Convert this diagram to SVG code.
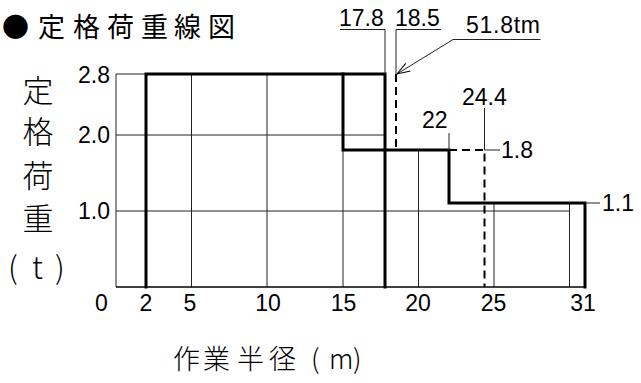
<svg xmlns="http://www.w3.org/2000/svg" width="641" height="383" viewBox="0 0 641 383">
<defs>
<style>
.num{font-family:"Liberation Sans",Arial,sans-serif;font-size:23px;fill:#000}
.cjk{font-family:"Noto Sans CJK JP","Noto Sans CJK SC",sans-serif;fill:#000}
.grid{stroke:#222;stroke-width:1;fill:none}
.thick{stroke:#000;stroke-width:3;fill:none;stroke-linejoin:miter;stroke-linecap:square}
.dash{stroke:#000;stroke-width:2;fill:none;stroke-dasharray:8 5}
.lead{stroke:#222;stroke-width:1;fill:none}
</style>
<marker id="arr" markerWidth="14" markerHeight="10" refX="13" refY="5" orient="auto" markerUnits="userSpaceOnUse">
<path d="M0,0.5 L13,5 L0,9.5" fill="none" stroke="#000" stroke-width="1"/>
</marker>
</defs>
<rect width="641" height="383" fill="#fff"/>
<g id="title">
<text class="cjk" y="37" font-size="27"><tspan x="2">●</tspan><tspan x="38">定</tspan><tspan x="73">格</tspan><tspan x="107">荷</tspan><tspan x="141">重</tspan><tspan x="174">線</tspan><tspan x="208">図</tspan></text>
</g>
<g id="y-axis-label" class="cjk" font-size="31" text-anchor="middle" font-weight="300">
<text x="38" y="102">定</text>
<text x="38" y="143">格</text>
<text x="38" y="187">荷</text>
<text x="38" y="230">重</text>
<text y="279" text-anchor="start"><tspan x="8">(</tspan><tspan x="32">t</tspan><tspan x="55">)</tspan></text>
</g>
<g id="x-axis-label">
<text class="cjk" y="369" font-size="27" font-weight="300"><tspan x="173">作</tspan><tspan x="203">業</tspan><tspan x="237">半</tspan><tspan x="269">径</tspan><tspan x="311">(</tspan><tspan x="329">m</tspan><tspan x="353">)</tspan></text>
</g>
<g id="grid">
<path class="grid" d="M116,74 V287 M116,74 H146 M116,135 H385 M116,211 H569.5 M191.5,74 V287 M267,74 V287 M343,150 V287 M418.5,150 V287 M494,203 V287 M569.5,203 V287"/>
<path d="M116,287 H585" stroke="#000" stroke-width="1.6" fill="none"/>
</g>
<g id="y-ticks" class="num" text-anchor="end">
<text x="110" y="83">2.8</text>
<text x="110" y="143">2.0</text>
<text x="110" y="219">1.0</text>
</g>
<g id="x-ticks" class="num" text-anchor="middle" font-size="22">
<text x="101.5" y="311">0</text>
<text x="146" y="311">2</text>
<text x="190" y="311">5</text>
<text x="268" y="311">10</text>
<text x="343.5" y="311">15</text>
<text x="418" y="311">20</text>
<text x="493.5" y="311">25</text>
<text x="583" y="311">31</text>
</g>
<g id="curve-outer">
<path class="thick" d="M146,287 V74 H385 V287"/>
</g>
<g id="curve-step">
<path class="thick" d="M343,74 V150 H449 V203 H585 V287"/>
</g>
<g id="curve-dashed">
<path class="dash" d="M396,74 V150"/>
<path class="dash" d="M449,150 H484.5 V287"/>
</g>
<g id="connectors">
<path class="lead" d="M340,29.5 H385 V74"/>
<path class="lead" d="M396,74 V29.5 H441"/>
<path class="lead" d="M540.5,39.5 H453"/>
<path class="lead" d="M453,39.5 L397,74" marker-end="url(#arr)"/>
<path class="lead" d="M484.5,108 V150 H500"/>
<path class="lead" d="M449,133 V150"/>
<path class="lead" d="M585,203 H600"/>
</g>
<g id="label-17-8"><text class="num" x="339" y="26" font-size="24">17.8</text></g>
<g id="label-18-5"><text class="num" x="395" y="26" font-size="24">18.5</text></g>
<g id="label-51-8tm"><text class="num" x="466" y="33" font-size="21" textLength="74" lengthAdjust="spacing">51.8tm</text></g>
<g id="label-24-4"><text class="num" x="462" y="105">24.4</text></g>
<g id="label-22"><text class="num" x="422" y="128">22</text></g>
<g id="label-1-8"><text class="num" x="501" y="158">1.8</text></g>
<g id="label-1-1"><text class="num" x="602" y="211">1.1</text></g>
</svg>
